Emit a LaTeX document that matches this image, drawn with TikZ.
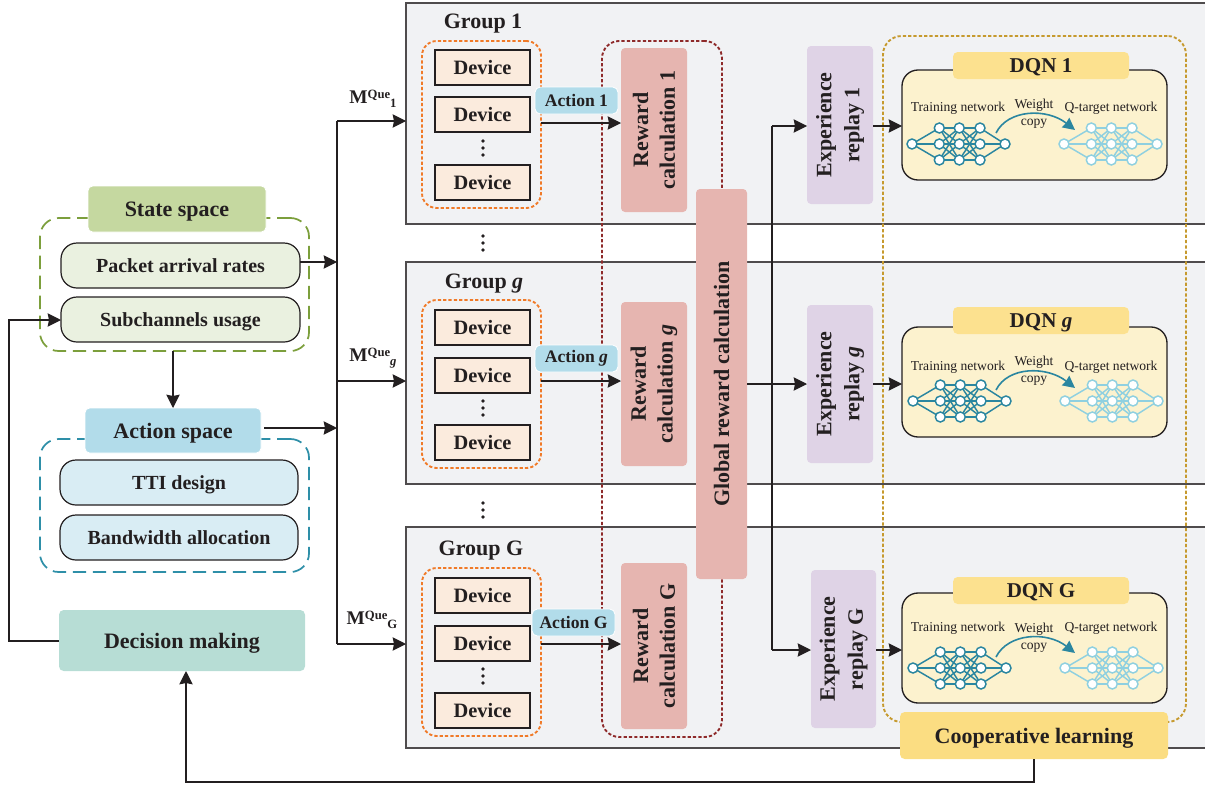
\documentclass[tikz,border=0pt]{standalone}
\usepackage{fontspec}
\setmainfont{Liberation Serif}
\usetikzlibrary{arrows.meta,calc}
\definecolor{ink}{HTML}{231F20}
\definecolor{grpfill}{HTML}{F1F2F4}
\definecolor{devfill}{HTML}{FBEBDD}
\definecolor{oradash}{HTML}{F07A28}
\definecolor{rewfill}{HTML}{E6B5B0}
\definecolor{reddash}{HTML}{8E2A2A}
\definecolor{expfill}{HTML}{DFD3E6}
\definecolor{golddash}{HTML}{C69A2E}
\definecolor{dqnfill}{HTML}{FCF2CE}
\definecolor{ttlfill}{HTML}{FCE18F}
\definecolor{coofill}{HTML}{FBDD82}
\definecolor{stafill}{HTML}{C5D8A0}
\definecolor{gredash}{HTML}{7C9F3C}
\definecolor{grerow}{HTML}{EAF1E0}
\definecolor{actfill}{HTML}{B2DCEA}
\definecolor{teadash}{HTML}{2E8FA8}
\definecolor{blurow}{HTML}{D9EDF4}
\definecolor{decfill}{HTML}{B7DDD5}
\definecolor{netdark}{HTML}{2A86A0}
\definecolor{netlite}{HTML}{8FD0E0}
\newcommand{\bfL}{\fontsize{16.5}{20}\selectfont\bfseries}
\newcommand{\bfD}{\fontsize{15.3}{18}\selectfont\bfseries}
\newcommand{\bfT}{\fontsize{15.8}{18}\selectfont\bfseries}
\newcommand{\bfR}{\fontsize{15}{18}\selectfont\bfseries}
\newcommand{\bfM}{\fontsize{13.2}{16}\selectfont\bfseries}
\newcommand{\bfQ}{\fontsize{14.5}{17}\selectfont\bfseries}
\newcommand{\smT}{\fontsize{10.2}{12}\selectfont}
\newcommand{\mSup}[2]{M\raisebox{3.5pt}{\fontsize{9.5}{10}\selectfont Que}\raisebox{-3pt}{\fontsize{9.5}{10}\selectfont #1#2}}
% \bx{name}{style}{x1}{y1}{x2}{y2}{text}
\newcommand{\bx}[7]{\node[#2,minimum width={(#5-#3)*0.75pt},minimum height={(#6-(#4))*0.75pt}] (#1) at ({(#3+#5)/2},{-(#4+#6)/2}) {#7};}
% rotated box
\newcommand{\vbx}[7]{\node[#2,rotate=90,minimum width={(#6-#4)*0.75pt},minimum height={(#5-#3)*0.75pt}] (#1) at ({(#3+#5)/2},{-(#4+#6)/2}) {#7};}
% \net{prefix}{x0}{ycentre}{colour}
\newcommand{\net}[4]{%
  \foreach \kk/\xx in {1/27.3,2/47.3,3/68}{\foreach \ri in {1,2,3}{%
    \node[netnode,draw=#4] (#1c\kk-\ri) at ({#2+\xx},{-(#3+(\ri-2)*16)}) {};}}
  \node[netnode,draw=#4] (#1in) at (#2,{-(#3)}) {};
  \node[netnode,draw=#4] (#1out) at ({#2+93},{-(#3)}) {};
  \foreach \ri in {1,2,3}{%
    \draw[netline,draw=#4] (#1in) -- (#1c1-\ri);
    \draw[netline,draw=#4] (#1c3-\ri) -- (#1out);
    \foreach \si in {1,2,3}{%
      \draw[netline,draw=#4] (#1c1-\ri) -- (#1c2-\si);
      \draw[netline,draw=#4] (#1c2-\ri) -- (#1c3-\si);}}
}
\tikzset{
  x=0.75pt,y=0.75pt,
  every node/.style={text=ink,inner sep=0pt,outer sep=0pt,align=center},
  arr/.style={draw=ink,line width=0.95pt,-{Stealth[length=10pt,width=10pt,inset=1pt]}},
  wire/.style={draw=ink,line width=0.95pt},
  grp/.style={draw=ink!80,fill=grpfill,line width=0.8pt},
  dev/.style={rectangle,draw=ink,fill=devfill,line width=0.8pt,font=\bfD},
  oradashed/.style={rectangle,rounded corners=11pt,draw=oradash,dash pattern=on 2.4pt off 1.6pt,line width=1.4pt},
  rew/.style={rectangle,rounded corners=3pt,fill=rewfill,font=\bfL},
  expbox/.style={rectangle,rounded corners=3pt,fill=expfill,font=\bfL},
  dqn/.style={rectangle,rounded corners=12pt,draw=ink,fill=dqnfill,line width=1pt},
  ttl/.style={rectangle,rounded corners=3.5pt,fill=ttlfill,font=\bfT,text depth=0pt},
  pill/.style={rectangle,rounded corners=4pt,fill=actfill,font=\bfM},
  headbox/.style={rectangle,rounded corners=3.5pt,font=\bfL,text depth=0pt},
  rowbox/.style={rectangle,rounded corners=12pt,draw=ink,line width=0.9pt,font=\bfR,text depth=0pt},
  netnode/.style={circle,fill=white,line width=1.1pt,minimum size=7.5pt},
  netline/.style={line width=1.1pt},
  copyarr/.style={draw=netdark,line width=1.2pt,-{Stealth[length=9pt,width=9pt,inset=0.5pt]}},
  dotnode/.style={circle,fill=ink,minimum size=2.8pt},
  grplabel/.style={font=\bfL,text depth=0pt},
}
\begin{document}
\begin{tikzpicture}
\useasboundingbox (0,0) rectangle (1205,-785);
% groups
\bx{grpA}{rectangle,grp}{406}{3}{1210}{224}{}
\bx{grpB}{rectangle,grp}{406}{262}{1210}{484}{}
\bx{grpC}{rectangle,grp}{406}{527}{1210}{748}{}
\node[grplabel] (lblA) at (483,-21) {Group 1};
\node[grplabel] (lblB) at (484,-281) {Group \textit{g}};
\node[grplabel] (lblC) at (481,-548) {Group G};
% dots between groups
\foreach \n/\yy in {a/243,b/510}{\foreach \d in {-7,0,7}{\node[dotnode] (gap\n\d) at (483,{-(\yy+\d)}) {};}}
% device clusters
\bx{oraA}{oradashed}{422}{41}{541}{208}{}
\bx{oraB}{oradashed}{422}{300}{541}{468}{}
\bx{oraC}{oradashed}{422}{568}{541}{736}{}
\bx{devA1}{dev}{435}{50}{530}{85}{Device}
\bx{devA2}{dev}{435}{97}{530}{132}{Device}
\bx{devA3}{dev}{435}{165}{530}{200}{Device}
\bx{devB1}{dev}{435}{310}{530}{345}{Device}
\bx{devB2}{dev}{435}{358}{530}{393}{Device}
\bx{devB3}{dev}{435}{425}{530}{460}{Device}
\bx{devC1}{dev}{435}{578}{530}{613}{Device}
\bx{devC2}{dev}{435}{626}{530}{661}{Device}
\bx{devC3}{dev}{435}{693}{530}{728}{Device}
\foreach \n/\yy in {a/148,b/408,c/676}{\foreach \d in {-7,0,7}{\node[dotnode] (dot\n\d) at (483,{-(\yy+\d)}) {};}}
% reward
\bx{redbox}{rectangle,rounded corners=13pt,draw=reddash,dash pattern=on 2.4pt off 1.6pt,line width=1.4pt}{602}{41}{722}{737}{}
\vbx{rewA}{rew}{621}{48}{687}{212}{Reward\\calculation 1}
\vbx{rewB}{rew}{621}{302}{687}{466}{Reward\\calculation \textit{g}}
\vbx{rewC}{rew}{621}{563}{687}{729}{Reward\\calculation G}
\vbx{glob}{rew}{696}{189}{747}{579}{Global reward calculation}
% experience
\vbx{expA}{expbox}{807}{46}{873}{204}{Experience\\[1pt]replay 1}
\vbx{expB}{expbox}{807}{305}{873}{463}{Experience\\[1pt]replay \textit{g}}
\vbx{expC}{expbox}{811}{570}{876}{728}{Experience\\[1pt]replay G}
% cooperative outline
\bx{goldbox}{rectangle,rounded corners=14pt,draw=golddash,dash pattern=on 2.4pt off 1.6pt,line width=1.4pt}{883}{36}{1186}{722}{}
% DQN blocks: tag/box top/title top/net x/net centre/text y/weight y/arc start y/arc end y/label
\foreach \tg/\tp/\ttop/\nx/\ny/\ty/\wy/\ca/\cb/\qx/\lab in {
  A/70/52/912/144/108/113.5/133/130/1064/DQN 1,
  B/327/307/913/401/367/371/390/388/1065/DQN \textit{g},
  C/593/577/913/668/628/637.5/657/653/1065/DQN G}{
  \bx{dqn\tg}{dqn}{902}{\tp}{1167}{\tp+110}{}
  \bx{ttl\tg}{ttl}{953}{\ttop}{1129}{\ttop+27}{\lab}
  \node[font=\smT] (trn\tg) at (958,{-\ty}) {Training network};
  \node[font=\smT] (qtg\tg) at (1111,{-\ty}) {Q-target network};
  \node[font=\smT] (wgt\tg) at (1034,{-\wy}) {Weight\\[1pt]copy};
  \net{t\tg}{\nx}{\ny}{netdark}
  \net{q\tg}{\qx}{\ny}{netlite}
  \coordinate (cs\tg) at (996,{-\ca});
  \coordinate (ce\tg) at (1075,{-\cb});
  \draw[copyarr] (cs\tg) .. controls ($(cs\tg)+(12,24)$) and ($(ce\tg)+(-28,22)$) .. (ce\tg);
}
\bx{coop}{rectangle,rounded corners=3.5pt,fill=coofill,font=\bfL,text depth=0pt}{900}{712}{1168}{759}{Cooperative learning}
% left side
\bx{grnbox}{rectangle,rounded corners=14pt,draw=gredash,dash pattern=on 10pt off 5pt,line width=1.3pt}{40}{218}{309}{351}{}
\bx{stat}{headbox,fill=stafill,draw=white,line width=0.6pt}{88}{186}{266}{232}{State space}
\bx{pkt}{rowbox,fill=grerow}{61}{243}{300}{288}{Packet arrival rates}
\bx{sub}{rowbox,fill=grerow}{61}{297}{300}{342}{Subchannels usage}
\bx{teabox}{rectangle,rounded corners=14pt,draw=teadash,dash pattern=on 10pt off 5pt,line width=1.3pt}{40}{439}{309}{572}{}
\bx{actn}{headbox,fill=actfill,draw=white,line width=0.6pt}{85}{408}{261}{453}{Action space}
\bx{tti}{rowbox,fill=blurow}{60}{460}{298}{505}{TTI design}
\bx{band}{rowbox,fill=blurow}{60}{515}{298}{560}{Bandwidth allocation}
\bx{deci}{rectangle,rounded corners=3.5pt,fill=decfill,font=\bfL,text depth=0pt}{59}{610}{305}{671}{Decision making}
% M labels
\node[font=\bfQ] (mA) at (373,-99) {\mSup{}{1}};
\node[font=\bfQ] (mB) at (373,-358) {\mSup{\itshape}{g}};
\node[font=\bfQ] (mC) at (372,-620) {\mSup{}{G}};
% bus coordinates
\coordinate (busT) at (337,-121);
\coordinate (busS) at (337,-262);
\coordinate (busA) at (337,-428);
\coordinate (busM) at (337,-381);
\coordinate (busB) at (337,-644);
\draw[wire] (busT) -- (busB);
\draw[arr] (busT) -- (grpA.west |- busT);
\draw[arr] (busM) -- (grpB.west |- busM);
\draw[arr] (busB) -- (grpC.west |- busB);
\draw[arr] (pkt.east |- busS) -- (busS);
\coordinate (actOut) at (264,-428);
\draw[arr] (actOut) -- (busA);
% feedback loops
\coordinate (lpA) at (9,-641);
\coordinate (lpB) at (9,-320);
\draw[arr] (deci.west |- lpA) -- (lpA) -- (lpB) -- (sub.west |- lpB);
\coordinate (stOut) at (173,-351);
\draw[arr] (stOut) -- (actn.north -| stOut);
\coordinate (cpA) at (1034,-782);
\coordinate (cpB) at (186,-782);
\draw[arr] (coop.south -| cpA) -- (cpA) -- (cpB) -- (deci.south -| cpB);
% action arrows
\coordinate (arA) at (541,-123);
\coordinate (arB) at (541,-381);
\coordinate (arC) at (541,-644);
\draw[arr] (arA) -- (rewA.north |- arA);
\draw[arr] (arB) -- (rewB.north |- arB);
\draw[arr] (arC) -- (rewC.north |- arC);
\bx{pilA}{pill,draw=white,line width=0.6pt}{535}{87}{618}{114}{Action 1}
\bx{pilB}{pill,draw=white,line width=0.6pt}{535}{345}{618}{372}{Action \textit{g}}
\bx{pilC}{pill,draw=white,line width=0.6pt}{532}{609}{615}{636}{Action G}
% global to experience
\coordinate (gxM) at (772,-384);
\coordinate (gxT) at (772,-126);
\coordinate (gxB) at (772,-650);
\draw[arr] (glob.south |- gxM) -- (expB.north |- gxM);
\draw[wire] (gxT) -- (gxB);
\draw[arr] (gxT) -- (expA.north |- gxT);
\draw[arr] (gxB) -- (expC.north |- gxB);
\coordinate (edA) at (902,-126);
\coordinate (edB) at (902,-384);
\coordinate (edC) at (902,-650);
\draw[arr] (expA.south |- edA) -- (edA);
\draw[arr] (expB.south |- edB) -- (edB);
\draw[arr] (expC.south |- edC) -- (edC);
\end{tikzpicture}
\end{document}
